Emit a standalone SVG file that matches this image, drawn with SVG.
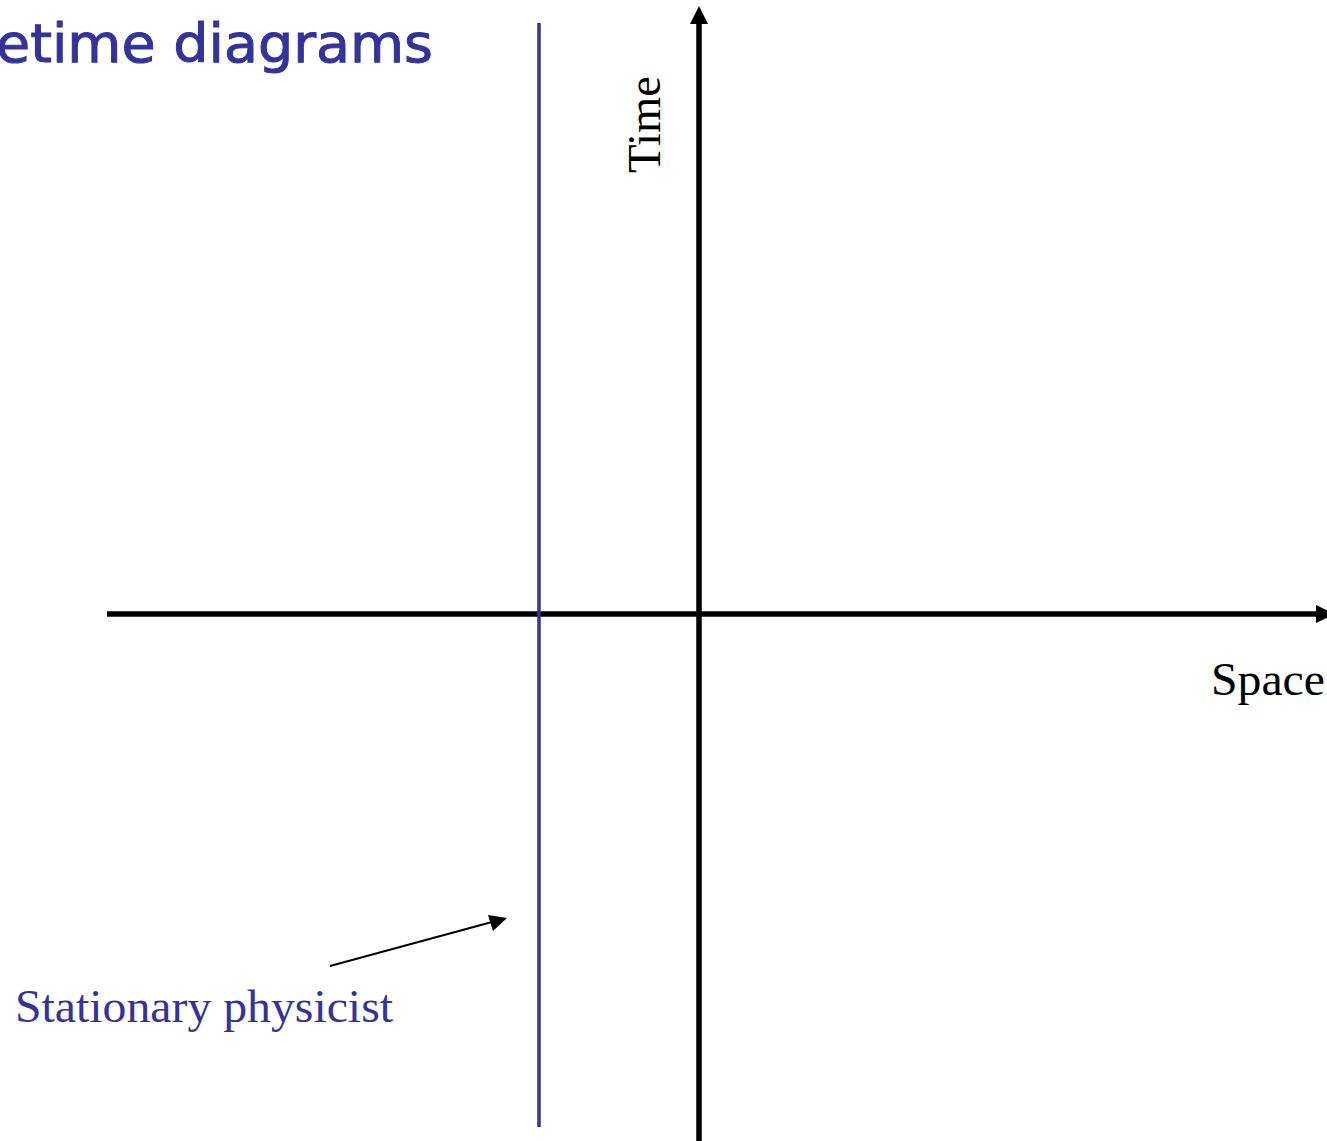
<svg xmlns="http://www.w3.org/2000/svg" width="1327" height="1141" viewBox="0 0 1327 1141">
  <style>
    .axis { stroke: #000; stroke-width: 5.5; fill: none; }
    .serif { font-family: "Liberation Serif", "Times New Roman", serif; }
    .blue { fill: #333399; }
  </style>
  <rect width="1327" height="1141" fill="#fff"/>
  <g id="title">
    <text x="-4" y="62" font-family="'Comic Sans MS', 'DejaVu Sans', sans-serif" font-size="54" class="blue" stroke="#333399" stroke-width="1" textLength="437" lengthAdjust="spacingAndGlyphs">etime diagrams</text>
  </g>
  <g id="connectors">
    <line class="axis" x1="699" y1="1141" x2="699" y2="22"/>
    <polygon points="690,24 699,6 708,24" fill="#000"/>
    <line class="axis" x1="107" y1="614" x2="1318" y2="614"/>
    <polygon points="1316,605 1335,614 1316,623" fill="#000"/>
    <line x1="330" y1="966" x2="492" y2="922" stroke="#000" stroke-width="2"/>
    <polygon points="507,918 488,915 493,931" fill="#000"/>
  </g>
  <g id="worldline">
    <line x1="539" y1="23" x2="539" y2="1127" stroke="#333399" stroke-width="3.5"/>
  </g>
  <g id="time-label">
    <text class="serif" font-size="46" transform="translate(660,173) rotate(-90)" textLength="97" lengthAdjust="spacingAndGlyphs">Time</text>
  </g>
  <g id="space-label">
    <text class="serif" x="1211" y="695" font-size="46" textLength="114" lengthAdjust="spacingAndGlyphs">Space</text>
  </g>
  <g id="physicist-label">
    <text class="serif blue" x="15" y="1022" font-size="47" textLength="378" lengthAdjust="spacingAndGlyphs">Stationary physicist</text>
  </g>
</svg>
